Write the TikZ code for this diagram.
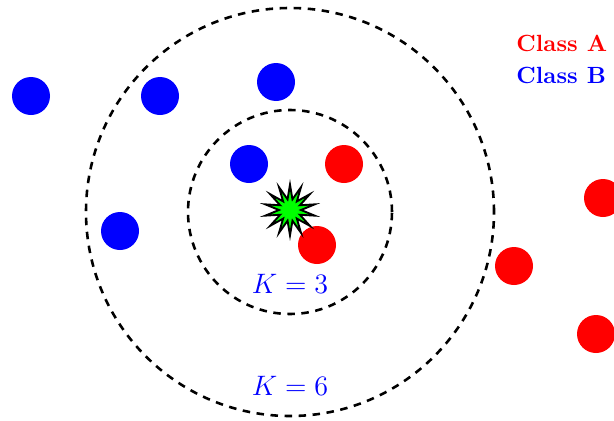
\documentclass[tikz,border=0pt]{standalone}
\usetikzlibrary{shapes.geometric}
\begin{document}
\begin{tikzpicture}[x=0.015cm,y=-0.015cm,
  dotA/.style={circle,fill=red,minimum size=0.57cm,inner sep=0pt},
  dotB/.style={circle,fill=blue,minimum size=0.57cm,inner sep=0pt},
  ring/.style={circle,draw=black,dash pattern=on 3.2pt off 2.8pt,line width=1.1pt,inner sep=0pt},
  klabel/.style={text=blue,font=\large},
  legend/.style={anchor=west,font=\bfseries,inner sep=0pt}]
\useasboundingbox (0,0) rectangle (614,421);
\node[ring,minimum size=6.12cm] (outer) at (290,212) {};
\node[ring,minimum size=3.06cm] (inner) at (290,212) {};
\node[dotB] (b1) at (31,96) {};
\node[dotB] (b2) at (160,96) {};
\node[dotB] (b3) at (276,82) {};
\node[dotB] (b4) at (249,164) {};
\node[dotB] (b5) at (120,231) {};
\node[dotA] (a1) at (344,164) {};
\node[dotA] (a2) at (317,245) {};
\node[dotA] (a3) at (514,266) {};
\node[dotA] (a4) at (603,198) {};
\node[dotA] (a5) at (596,334) {};
\node[star,star points=14,star point ratio=2.3,fill=green,draw=black,thick,minimum size=0.76cm,inner sep=0pt] (q) at (290,210) {};
\node[klabel] (k3) at (290,284) {$K=3$};
\node[klabel] (k6) at (290,386) {$K=6$};
\node[legend,text=red] (la) at (516,43) {Class A};
\node[legend,text=blue] (lb) at (516,75) {Class B};
\end{tikzpicture}
\end{document}
